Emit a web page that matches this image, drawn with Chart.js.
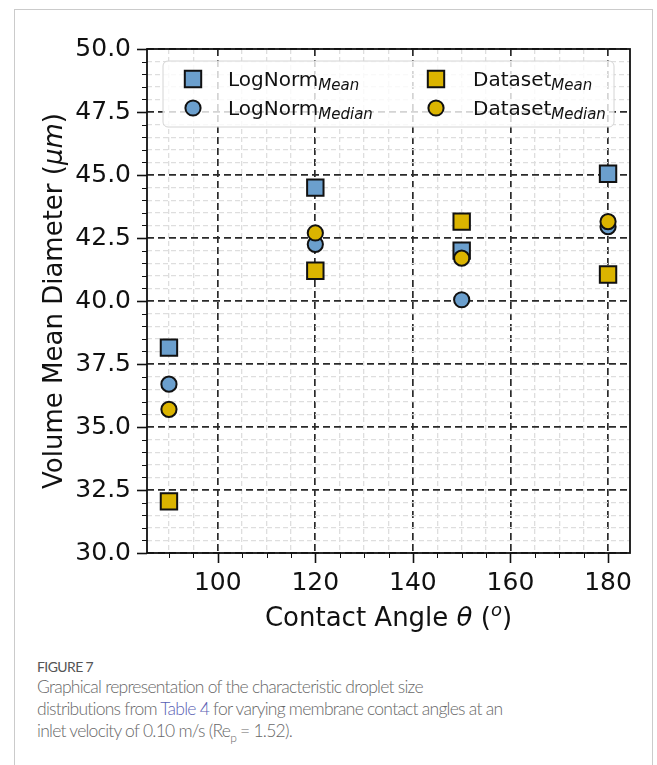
<!DOCTYPE html>
<html>
<head>
<meta charset="utf-8">
<script src="https://cdn.jsdelivr.net/npm/chart.js@4.4.1/dist/chart.umd.min.js"></script>
<style>
  html, body { margin: 0; padding: 0; background: #fff; }
  body { width: 657px; height: 765px; position: relative; overflow: hidden; }
  .frame {
    position: absolute; left: 14px; top: 9px; width: 639px; height: 800px;
    border: 1px solid #cbcbcb; border-bottom: none; box-sizing: border-box;
  }
  #wrap { position: absolute; left: 0; top: 0; width: 657px; height: 645px; }
  .caption {
    position: absolute; left: 37px; top: 658px; width: 610px;
    font-family: Lato, "Open Sans", sans-serif; color: #686868; white-space: nowrap;
  }
  .caption .fig { font-size: 14px; letter-spacing: -0.6px; color: #555; line-height: 18px; }
  .caption .txt { font-size: 17.5px; line-height: 22px; letter-spacing: -0.75px; font-weight: 300; }
  .caption .link { color: #5a5fb4; }
</style>
</head>
<body>
<div class="frame"></div>
<div id="wrap"><canvas id="chart" width="657" height="645"></canvas></div>
<div class="caption">
  <div class="fig">FIGURE 7</div>
  <div class="txt">Graphical representation of the characteristic droplet size<br>distributions from <span class="link">Table 4</span> for varying membrane contact angles at an<br>inlet velocity of 0.10 m/s (Re<sub style="font-size:12px;line-height:0">p</sub> = 1.52).</div>
</div>
<script>
// --- DADOS ---
const angles = [90, 120, 150, 180];
const logNormMean = [38.15, 44.5, 42.0, 45.05];
const logNormMedian = [36.7, 42.25, 40.05, 42.95];
const datasetMean = [32.05, 41.2, 43.15, 41.05];
const datasetMedian = [35.7, 42.7, 41.7, 43.15];

const seriesNames = ['LogNorm', 'LogNorm', 'Dataset', 'Dataset'];
const seriesSubs = ['Mean', 'Median', 'Mean', 'Median'];

const BLUE = '#6b9fcd';
const GOLD = '#dbb400';
const FONT = 'DejaVu Sans';
const R_RECT = 11.6;
const R_CIRC = 7.6;

const isMajorX = (v) => Math.abs(v / 20 - Math.round(v / 20)) < 1e-6;
const isMajorY = (v) => Math.abs(v / 2.5 - Math.round(v / 2.5)) < 1e-6;

function pts(values) {
  return angles.map((a, i) => ({ x: a, y: values[i] }));
}

function makeSet(i, values, color, style, order) {
  const r = style === 'rect' ? R_RECT : R_CIRC;
  return {
    label: seriesNames[i] + ' ' + seriesSubs[i],
    data: pts(values),
    backgroundColor: color,
    borderColor: '#111',
    borderWidth: 2,
    pointStyle: style,
    pointRadius: r,
    pointHoverRadius: r,
    order: order,
  };
}

// marcador da legenda
function drawMarker(ctx, style, x, y, color) {
  ctx.beginPath();
  if (style === 'rect') {
    const s = R_RECT * Math.SQRT1_2;
    ctx.rect(x - s, y - s, 2 * s, 2 * s);
  } else {
    ctx.arc(x, y, R_CIRC, 0, Math.PI * 2);
  }
  ctx.fillStyle = color;
  ctx.fill();
  ctx.lineWidth = 2;
  ctx.strokeStyle = '#111';
  ctx.stroke();
}

// texto com partes em italico / sub / sobrescrito
function drawRich(ctx, parts, x, y, align) {
  let total = 0;
  parts.forEach((p) => {
    ctx.font = (p.it ? 'italic ' : '') + p.size + 'px "' + FONT + '"';
    p.w = ctx.measureText(p.t).width;
    total += p.w;
  });
  let cx = align === 'center' ? x - total / 2 : x;
  ctx.textAlign = 'left';
  ctx.textBaseline = 'alphabetic';
  parts.forEach((p) => {
    ctx.font = (p.it ? 'italic ' : '') + p.size + 'px "' + FONT + '"';
    ctx.fillText(p.t, cx, y + (p.dy || 0));
    cx += p.w;
  });
}

const decor = {
  id: 'decor',
  afterDatasetsDraw(chart) {
    const { ctx, chartArea: a, scales } = chart;
    const x = scales.x, y = scales.y;
    ctx.save();
    ctx.strokeStyle = '#111';
    // tick marks
    x.ticks.forEach((t) => {
      const px = Math.round(x.getPixelForValue(t.value)) + 0.5;
      const major = isMajorX(t.value);
      ctx.lineWidth = major ? 1.6 : 1;
      ctx.beginPath();
      ctx.moveTo(px, a.bottom);
      ctx.lineTo(px, a.bottom + (major ? 10 : 5));
      ctx.stroke();
    });
    y.ticks.forEach((t) => {
      const py = Math.round(y.getPixelForValue(t.value)) + 0.5;
      const major = isMajorY(t.value);
      ctx.lineWidth = major ? 1.6 : 1;
      ctx.beginPath();
      ctx.moveTo(a.left, py);
      ctx.lineTo(a.left - (major ? 10 : 5), py);
      ctx.stroke();
    });
    // moldura
    ctx.lineWidth = 1.8;
    ctx.strokeRect(a.left, a.top, a.right - a.left, a.bottom - a.top);

    // legenda
    const lx = a.left + 16, ly = a.top + 12, lw = 451, lh = 66;
    ctx.beginPath();
    ctx.roundRect(lx, ly, lw, lh, 5);
    ctx.fillStyle = 'rgba(255,255,255,0.8)';
    ctx.fill();
    ctx.lineWidth = 1;
    ctx.strokeStyle = '#d4d4d4';
    ctx.stroke();

    const sets = chart.data.datasets;
    const cols = [[193, 228], [436, 473]];
    const rows = [79, 108];
    sets.forEach((ds, i) => {
      const col = cols[Math.floor(i / 2)];
      const row = rows[i % 2];
      drawMarker(ctx, ds.pointStyle, col[0], row, ds.backgroundColor);
      ctx.fillStyle = '#111';
      drawRich(ctx, [
        { t: seriesNames[i], size: 20 },
        { t: seriesSubs[i], size: 15, it: true, dy: 4 },
      ], col[1], row + 7, 'left');
    });
    ctx.restore();
  },
  afterDraw(chart) {
    const { ctx, chartArea: a } = chart;
    ctx.save();
    ctx.fillStyle = '#111';
    drawRich(ctx, [
      { t: 'Contact Angle ', size: 26 },
      { t: '\u03b8', size: 26, it: true },
      { t: ' (', size: 26 },
      { t: 'o', size: 18, it: true, dy: -10 },
      { t: ')', size: 26 },
    ], (a.left + a.right) / 2, 626, 'center');

    ctx.translate(62, (a.top + a.bottom) / 2);
    ctx.rotate(-Math.PI / 2);
    drawRich(ctx, [
      { t: 'Volume Mean Diameter (', size: 26 },
      { t: '\u03bcm', size: 26, it: true },
      { t: ')', size: 26 },
    ], 0, 0, 'center');
    ctx.restore();
  },
};

const ctx = document.getElementById('chart').getContext('2d');
new Chart(ctx, {
  type: 'scatter',
  data: {
    datasets: [
      makeSet(0, logNormMean, BLUE, 'rect', 4),
      makeSet(1, logNormMedian, BLUE, 'circle', 3),
      makeSet(2, datasetMean, GOLD, 'rect', 2),
      makeSet(3, datasetMedian, GOLD, 'circle', 1),
    ],
  },
  options: {
    responsive: false,
    animation: false,
    devicePixelRatio: 1,
    layout: { padding: { left: 0, top: 49, right: 27, bottom: 0 } },
    plugins: { legend: { display: false }, tooltip: { enabled: false } },
    scales: {
      x: {
        type: 'linear',
        min: 85.5,
        max: 184.5,
        afterFit: (s) => { s.height = 92; },
        ticks: {
          stepSize: 5,
          includeBounds: false,
          autoSkip: false,
          maxRotation: 0,
          padding: 15,
          color: '#111',
          font: { family: FONT, size: 25 },
          callback: (v) => (isMajorX(v) ? String(v) : ''),
        },
        grid: {
          drawTicks: false,
          color: (c) => (c.tick && isMajorX(c.tick.value) ? '#2a2a2a' : '#dedede'),
          lineWidth: (c) => (c.tick && isMajorX(c.tick.value) ? 1.7 : 1.3),
        },
        border: {
          display: false,
          dash: (c) => (c.tick && isMajorX(c.tick.value) ? [7, 4] : [5, 3]),
        },
      },
      y: {
        type: 'linear',
        min: 30,
        max: 50,
        afterFit: (s) => { s.width = 147; },
        ticks: {
          stepSize: 0.5,
          autoSkip: false,
          padding: 16,
          color: '#111',
          font: { family: FONT, size: 25 },
          callback: (v) => (isMajorY(v) ? v.toFixed(1) : ''),
        },
        grid: {
          drawTicks: false,
          color: (c) => (c.tick && isMajorY(c.tick.value) ? '#2a2a2a' : '#dedede'),
          lineWidth: (c) => (c.tick && isMajorY(c.tick.value) ? 1.7 : 1.3),
        },
        border: {
          display: false,
          dash: (c) => (c.tick && isMajorY(c.tick.value) ? [7, 4] : [5, 3]),
        },
      },
    },
  },
  plugins: [decor],
});
</script>
</body>
</html>
